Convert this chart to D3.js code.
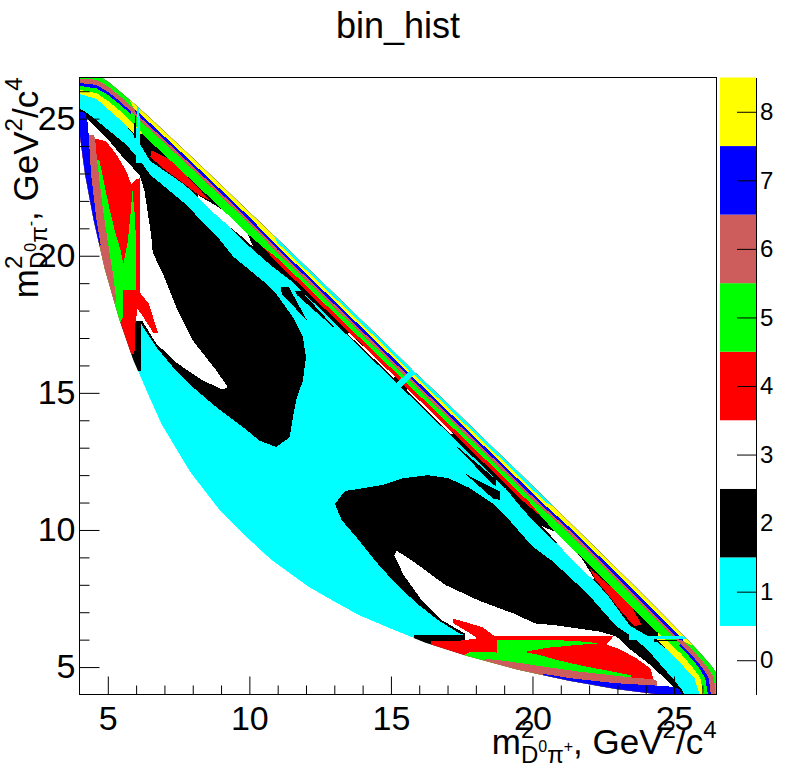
<!DOCTYPE html>
<html>
<head>
<meta charset="utf-8">
<script src="https://cdn.jsdelivr.net/npm/d3@7"></script>
<style>
  body { margin: 0; background: #fff; }
  svg text { font-family: "Liberation Sans", Arial, Helvetica, sans-serif; fill: #000; }
</style>
</head>
<body>
<svg id="chart" width="796" height="772"></svg>
<script>
// ---- data -------------------------------------------------------------
// bin colours, index = bin number shown on the palette
const binColors = ['#ffffff', '#00ffff', '#000000', '#ffffff', '#ff0000', '#00ff00', '#cd5c5c', '#0000ff', '#ffff00'];
const binLabels = [0, 1, 2, 3, 4, 5, 6, 7, 8];

const xDomain = [4, 26.5];
const yDomain = [4, 26.5];
const majorTicks = [5, 10, 15, 20, 25];
const minorTicks = [6, 7, 8, 9, 11, 12, 13, 14, 16, 17, 18, 19, 21, 22, 23, 24, 26];

// The binning is symmetric under m2(D0pi+) <-> m2(D0pi-): every region below is
// read off the upper-left half (y > x) and drawn once more mirrored.

// Dalitz edge, upper half: left frame -> top -> diagonal
const edgeUpper = [[4.0, 24.5], [4.0, 26.45], [4.1, 26.6], [4.6, 26.6], [5.0, 26.35], [5.5, 25.93],
  [6.0, 25.48], [6.5, 25.01], [7.0, 24.53], [8.0, 23.56], [9.0, 22.58], [10.0, 21.59], [11.0, 20.6],
  [12.0, 19.61], [13.0, 18.61], [14.0, 17.61], [15.0, 16.61], [15.8, 15.8]];
// Dalitz edge, lower-left arc: left frame -> diagonal
const edgeLower = [[4.0, 24.5], [4.1, 23.7], [4.2, 22.95], [4.5, 21.3], [4.7, 20.4], [4.9, 19.5],
  [5.4, 17.7], [5.9, 16.2], [6.42, 14.95], [6.9, 13.85], [7.43, 12.93], [7.92, 12.1], [8.44, 11.4],
  [8.93, 10.75], [9.82, 9.82]];

// big black lobe (bin 2)
const blackBlob = [[3.8, 25.45], [4.18, 25.27], [4.59, 24.95], [5.06, 24.55], [5.65, 24.05], [6.12, 23.5],
  [6.5, 22.95], [7.67, 21.95], [8.85, 20.72], [9.42, 19.98], [10.03, 19.46], [10.48, 19.08], [10.95, 18.61],
  [11.54, 17.76], [11.89, 17.03], [12.0, 16.3], [11.89, 15.45], [11.65, 14.72], [11.54, 14.11], [11.42, 13.38],
  [10.95, 13.02], [10.36, 13.26], [9.77, 13.75], [8.83, 14.48], [8.0, 15.21], [7.3, 15.94], [6.71, 16.67],
  [6.24, 17.4], [6.16, 17.6], [6.16, 15.8], [5.9, 15.8], [3.8, 15.8]];
// white band along the tongue and the hole inside the lobe (bin 3)
const whiteTongue = [[3.8, 25.1], [4.24, 25.03], [5.06, 24.18], [5.65, 23.45], [6.12, 22.96], [6.3, 22.35],
  [6.42, 21.5], [6.53, 20.77], [6.59, 20.1], [6.95, 19.34], [7.42, 18.12], [8.0, 16.91], [8.83, 15.82],
  [9.24, 15.21], [9.06, 15.12], [8.36, 15.45], [7.42, 16.1], [6.71, 16.8], [6.3, 17.48], [6.22, 17.62],
  [5.9, 17.62], [3.8, 17.62]];
// red V along the tongue (bin 4)
const redTongue = [[3.8, 24.3], [4.59, 24.26], [4.94, 24.18], [5.3, 23.7], [5.65, 23.09], [5.83, 22.6],
  [6.0, 22.78], [6.14, 22.84], [6.14, 18.65], [6.45, 18.25], [6.77, 17.2], [6.6, 17.2], [6.2, 17.85],
  [6.05, 18.05], [5.97, 17.5], [5.94, 16.4], [3.8, 16.4]];
// green band + wedge inside the red V (bin 5)
const greenTongue = [[3.8, 23.5], [4.65, 23.5], [4.71, 23.45], [4.88, 22.6], [5.05, 21.75], [5.25, 20.9],
  [5.45, 20.2], [5.55, 19.7], [5.7, 20.5], [5.8, 21.5], [5.87, 22.4], [5.95, 21.5], [6.0, 20.5],
  [6.0, 18.75], [5.53, 18.75], [5.55, 17.8], [5.4, 17.5], [3.8, 17.5]];
// outer bands of the tongue (bins 6, 7)
const roseTongue = [[3.8, 24.4], [4.5, 24.4], [4.55, 24.3], [4.62, 23.5], [4.82, 21.75], [5.0, 20.5],
  [5.18, 19.34], [5.3, 18.4], [5.2, 18.1], [3.8, 18.1]];
const blueTongue = [[3.8, 25.25], [4.2, 25.22], [4.3, 24.79], [4.41, 22.96], [4.59, 21.38], [4.75, 20.4],
  [4.6, 20.2], [3.8, 20.2]];

// bands along the diagonal edge, each polygon runs out past the edge (clipped)
const blackEdgeBand = [[4.0, 25.9], [4.6, 25.72], [5.06, 25.3], [5.6, 24.8], [6.0, 24.3], [6.5, 23.45],
  [7.67, 22.62], [8.85, 21.53], [10.03, 20.31], [10.7, 19.7], [11.5, 19.06], [12.0, 18.56], [13.0, 17.56],
  [14.0, 16.56], [15.2, 15.36], [16.6, 16.75], [4.5, 28], [3.5, 28], [3.5, 25.9]];
const blackSliverA = [[11.1, 18.85], [11.4, 18.85], [12.05, 17.62], [11.15, 18.6]];
const blackSliverB = [[11.6, 18.72], [11.85, 18.7], [13.15, 17.22], [11.7, 18.55]];
const whiteSliver = [[8.2, 22.2], [8.9, 21.78], [9.5, 21.32], [9.9, 20.88], [10.15, 20.3], [9.85, 20.6],
  [9.3, 21.05], [8.7, 21.6], [8.2, 22.12]];
const whiteNotchLine = [[13.5, 17.2], [15.15, 15.62], [15.1, 15.55], [13.5, 17.12]];
const redStreak = [[6.55, 23.85], [7.2, 23.5], [7.9, 22.8], [8.6, 22.02], [8.2, 22.22], [7.6, 22.7],
  [7.0, 23.15], [6.5, 23.6]];
const redEdgeBand = [[10.2, 21.9], [10.4, 20.4], [11.0, 19.72], [12.0, 18.73], [13.0, 17.73],
  [14.0, 16.73], [15.29, 15.44], [16.6, 16.75]];
const yellowCorner = [[3.5, 25.9], [4.0, 25.9], [4.6, 25.72], [5.06, 25.3], [5.6, 24.8], [6.0, 24.4],
  [6.3, 24.45], [6.6, 25.7], [4.5, 28], [3.5, 28]];
const greenEdgeBand = [[3.5, 26.05], [4.0, 26.05], [4.6, 25.93], [5.0, 25.65], [5.5, 25.23], [6.0, 24.7],
  [6.5, 24.16], [7.0, 23.68], [8.0, 22.71], [9.0, 21.73], [10.0, 20.74], [10.5, 20.3], [11.0, 19.9],
  [12.0, 18.91], [13.0, 17.91], [14.0, 16.91], [15.38, 15.53], [16.6, 16.75], [4.5, 28], [3.5, 28]];
const blueCorner = [[3.5, 26.2], [4.0, 26.2], [4.6, 26.1], [5.0, 25.87], [5.5, 25.45], [5.8, 25.18],
  [6.1, 25.7], [4.5, 28], [3.5, 28]];
const roseEdgeBand = [[3.5, 26.3], [4.0, 26.3], [4.6, 26.23], [5.0, 25.98], [5.5, 25.57], [6.0, 25.06],
  [7.0, 24.11], [8.0, 23.14], [9.0, 22.16], [10.0, 21.17], [11.0, 20.1], [12.0, 19.11], [13.0, 18.11],
  [14.0, 17.11], [15.48, 15.63], [16.6, 16.75], [4.5, 28], [3.5, 28]];
const blueEdgeBand = [[5.7, 26.3], [6.0, 25.18], [7.0, 24.23], [8.0, 23.26], [9.0, 22.28], [10.0, 21.29],
  [11.0, 20.22], [12.0, 19.23], [13.0, 18.23], [14.0, 17.23], [15.54, 15.69], [16.6, 16.75]];
const greenCorner = [[3.5, 26.45], [4.0, 26.45], [4.6, 26.42], [5.0, 26.18], [5.5, 25.76], [5.9, 25.38],
  [6.2, 25.8], [4.5, 28], [3.5, 28]];
const yellowEdgeBand = [[5.5, 26.3], [5.9, 25.4], [6.5, 24.83], [7.0, 24.35], [8.0, 23.38], [9.0, 22.4],
  [10.0, 21.41], [11.0, 20.34], [12.0, 19.35], [13.0, 18.35], [14.0, 17.35], [15.6, 15.75], [16.6, 16.75]];
const cyanEdgeBand = [[10.3, 22.0], [10.5, 21.4], [11.0, 20.47], [12.0, 19.48], [13.0, 18.48],
  [14.0, 17.48], [15.66, 15.81], [16.6, 16.75]];
// the narrow spike at m2 ~ 6
const blackSpike = [[5.93, 24.3], [5.95, 25.1], [5.99, 25.1], [5.99, 24.3]];
const cyanSpike = [[5.99, 23.4], [6.03, 25.5], [6.11, 25.5], [6.16, 23.4]];

// paint order, deepest first
const layers = [
  { bin: 2, pts: blackBlob }, { bin: 3, pts: whiteTongue }, { bin: 4, pts: redTongue },
  { bin: 5, pts: greenTongue }, { bin: 6, pts: roseTongue }, { bin: 7, pts: blueTongue },
  { bin: 2, pts: blackEdgeBand }, { bin: 2, pts: blackSliverA }, { bin: 2, pts: blackSliverB },
  { bin: 3, pts: whiteSliver }, { bin: 3, pts: whiteNotchLine }, { bin: 4, pts: redStreak },
  { bin: 4, pts: redEdgeBand }, { bin: 8, pts: yellowCorner }, { bin: 5, pts: greenEdgeBand },
  { bin: 7, pts: blueCorner }, { bin: 6, pts: roseEdgeBand }, { bin: 7, pts: blueEdgeBand },
  { bin: 5, pts: greenCorner }, { bin: 8, pts: yellowEdgeBand }, { bin: 1, pts: cyanEdgeBand },
  { bin: 2, pts: blackSpike }, { bin: 1, pts: cyanSpike }
];

// axis titles: runs are laid left to right, sup/sub pairs share one start
const xTitle = [
  { runs: [{ t: 'm', size: 35, dy: 0 }] },
  { sup: [{ t: '2', size: 24, dy: -16 }],
    sub: [{ t: 'D', size: 24, dy: 9 }, { t: '0', size: 16, dy: -2 }, { t: 'π', size: 24, dy: 9 }, { t: '+', size: 16, dy: -2 }] },
  { runs: [{ t: ', GeV', size: 35, dy: 0 }] },
  { sup: [{ t: '2', size: 24, dy: -16 }] },
  { runs: [{ t: '/c', size: 35, dy: 0 }] },
  { sup: [{ t: '4', size: 24, dy: -16 }] }
];
const yTitle = [
  { runs: [{ t: 'm', size: 35, dy: 0 }] },
  { sup: [{ t: '2', size: 24, dy: -16 }],
    sub: [{ t: 'D', size: 24, dy: 9 }, { t: '0', size: 16, dy: -2 }, { t: 'π', size: 24, dy: 9 }, { t: '-', size: 16, dy: -2 }] },
  { runs: [{ t: ', GeV', size: 35, dy: 0 }] },
  { sup: [{ t: '2', size: 24, dy: -16 }] },
  { runs: [{ t: '/c', size: 35, dy: 0 }] },
  { sup: [{ t: '4', size: 24, dy: -16 }] }
];

// ---- layout -----------------------------------------------------------
const frame = { left: 79.5, right: 716.5, top: 77.5, bottom: 694.5 };
const palette = { left: 720, right: 756 };

const svg = d3.select('#chart');
const x = d3.scaleLinear().domain(xDomain).range([frame.left, frame.right]);
const y = d3.scaleLinear().domain(yDomain).range([frame.bottom, frame.top]);
const line = d3.line().x(d => x(d[0])).y(d => y(d[1]));
const swap = pts => pts.map(([a, b]) => [b, a]);

// full Dalitz outline built from the two half arcs
const outline = edgeUpper.concat(swap(edgeUpper).reverse(), swap(edgeLower), edgeLower.slice().reverse());

const defs = svg.append('defs');
defs.append('clipPath').attr('id', 'frameClip').append('rect')
  .attr('x', frame.left).attr('y', frame.top)
  .attr('width', frame.right - frame.left).attr('height', frame.bottom - frame.top);
defs.append('clipPath').attr('id', 'dalitzClip').append('path').attr('d', line(outline) + 'Z');

const plot = svg.append('g').attr('clip-path', 'url(#frameClip)')
  .append('g').attr('clip-path', 'url(#dalitzClip)')
  .attr('shape-rendering', 'crispEdges');

plot.append('path').attr('d', line(outline) + 'Z').attr('fill', binColors[1]);

layers.forEach(layer => {
  [layer.pts, swap(layer.pts)].forEach(p => {
    plot.append('path').attr('d', line(p) + 'Z').attr('fill', binColors[layer.bin]);
  });
});

// frame
svg.append('rect')
  .attr('x', frame.left).attr('y', frame.top)
  .attr('width', frame.right - frame.left).attr('height', frame.bottom - frame.top)
  .attr('fill', 'none').attr('stroke', '#000').attr('stroke-width', 1);

const fontFamily = '"Liberation Sans", Arial, Helvetica, sans-serif';

// axes, ticks point into the frame
function styleAxis(g, size) {
  g.attr('font-size', size).attr('font-family', fontFamily);
  g.select('.domain').remove();
  g.selectAll('.tick line').attr('stroke', '#000');
}

svg.append('g').attr('transform', `translate(0,${frame.bottom})`)
  .call(d3.axisBottom(x).tickValues(minorTicks).tickSize(-9).tickSizeOuter(0).tickFormat(''))
  .call(g => styleAxis(g, 34));
svg.append('g').attr('transform', `translate(0,${frame.bottom})`)
  .call(d3.axisBottom(x).tickValues(majorTicks).tickSize(-18).tickSizeOuter(0).tickPadding(11).tickFormat(d3.format('d')))
  .call(g => styleAxis(g, 34));

svg.append('g').attr('transform', `translate(${frame.left},0)`)
  .call(d3.axisLeft(y).tickValues(minorTicks).tickSize(-10).tickSizeOuter(0).tickFormat(''))
  .call(g => styleAxis(g, 34));
svg.append('g').attr('transform', `translate(${frame.left},0)`)
  .call(d3.axisLeft(y).tickValues(majorTicks).tickSize(-20).tickSizeOuter(0).tickPadding(4).tickFormat(d3.format('d')))
  .call(g => styleAxis(g, 34));

// palette
const c = d3.scaleLinear().domain([-0.5, 8.5]).range([frame.bottom, frame.top]);
svg.append('g').selectAll('rect').data(binLabels).join('rect')
  .attr('x', palette.left).attr('width', palette.right - palette.left)
  .attr('y', d => c(d + 0.5)).attr('height', d => c(d - 0.5) - c(d + 0.5))
  .attr('fill', d => binColors[d]);
svg.append('g').attr('transform', `translate(${palette.right},0)`)
  .call(d3.axisRight(c).tickValues(binLabels).tickSize(-19).tickSizeOuter(0).tickPadding(4).tickFormat(d3.format('d')))
  .call(g => {
    g.attr('font-size', 24).attr('font-family', fontFamily);
    g.select('.domain').attr('stroke', '#000');
    g.selectAll('.tick line').attr('stroke', '#000');
  });

// title
svg.append('text').attr('x', 398).attr('y', 38).attr('text-anchor', 'middle')
  .style('font-size', '36px').text('bin_hist');

// rich text helper for the axis titles
function drawRich(parent, blocks) {
  const g = parent.append('g');
  let cursor = 0;
  const put = (run, x0) => g.append('text').attr('x', x0).attr('y', run.dy)
    .style('font-size', run.size + 'px').text(run.t).node().getComputedTextLength();
  blocks.forEach(b => {
    if (b.runs) {
      b.runs.forEach(r => { cursor += put(r, cursor); });
    } else {
      let w1 = 0, w2 = 0;
      (b.sup || []).forEach(r => { w1 += put(r, cursor + w1); });
      (b.sub || []).forEach(r => { w2 += put(r, cursor + w2); });
      cursor += Math.max(w1, w2);
    }
  });
  return { g, width: cursor };
}

const xt = drawRich(svg, xTitle);
xt.g.attr('transform', `translate(${frame.right - xt.width},754)`);

const yt = drawRich(svg, yTitle);
yt.g.attr('transform', `translate(38,${frame.top + yt.width}) rotate(-90)`);
</script>
</body>
</html>
